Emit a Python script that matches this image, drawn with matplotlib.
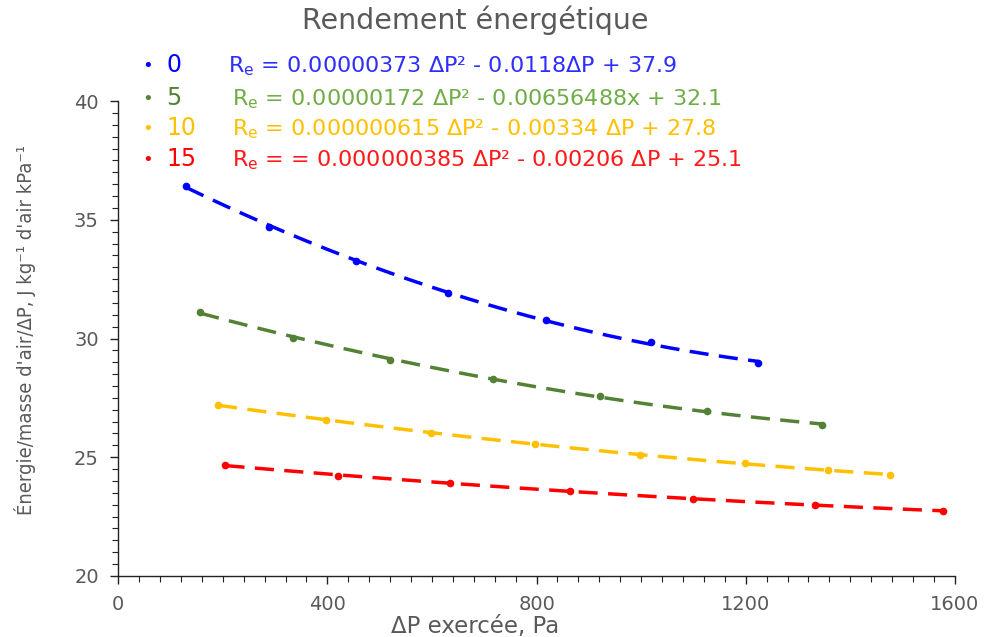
import numpy as np
import matplotlib
matplotlib.use("Agg")
from matplotlib import pyplot as plt
from matplotlib.ticker import MultipleLocator

# data
series_names = ["0", "5", "10", "15"]
dp_0 = [130, 289, 455, 631, 818, 1019, 1224]
re_0 = [36.42, 34.70, 33.26, 31.90, 30.78, 29.85, 28.97]
dp_5 = [157, 335, 520, 717, 922, 1126, 1346]
re_5 = [31.12, 30.02, 29.09, 28.29, 27.58, 26.95, 26.36]
dp_10 = [191, 398, 598, 797, 998, 1199, 1358, 1476]
re_10 = [27.20, 26.57, 26.02, 25.56, 25.09, 24.76, 24.46, 24.25]
dp_15 = [205, 421, 635, 864, 1099, 1333, 1577]
re_15 = [24.67, 24.21, 23.92, 23.58, 23.24, 22.99, 22.74]
equations = [
    "R$_\\mathregular{e}$ = 0.00000373 ΔP² - 0.0118ΔP + 37.9",
    "R$_\\mathregular{e}$ = 0.00000172 ΔP² - 0.00656488x + 32.1",
    "R$_\\mathregular{e}$ = 0.000000615 ΔP² - 0.00334 ΔP + 27.8",
    "R$_\\mathregular{e}$ = = 0.000000385 ΔP² - 0.00206 ΔP + 25.1",
]

colors = ["#0000FF", "#548235", "#FFC000", "#FF0000"]
text_colors = ["#2E2EFF", "#70AD47", "#FFC000", "#FF1A1A"]
gray = "#595959"

plt.rcParams['font.family'] = ['DejaVu Sans']

fig = plt.figure(figsize=(10.02, 6.37), dpi=100)
ax = fig.add_axes([0.118, 0.0958, 0.835, 0.7456])

xs = [dp_0, dp_5, dp_10, dp_15]
ys = [re_0, re_5, re_10, re_15]
for x, y, c in zip(xs, ys, colors):
    ax.plot(x, y, 'o', color=c, markersize=4.5, zorder=3)
    # second order trend line, like the spreadsheet one
    coef = np.polyfit(x, y, 2)
    xx = np.linspace(min(x), max(x), 200)
    ax.plot(xx, np.polyval(coef, xx), color=c, lw=2.5, dashes=(5.5, 3), zorder=2)

ax.set_xlim(0, 1600)
ax.set_ylim(20, 40)
ax.xaxis.set_major_locator(MultipleLocator(400))
ax.xaxis.set_minor_locator(MultipleLocator(40))
ax.yaxis.set_major_locator(MultipleLocator(5))
ax.yaxis.set_minor_locator(MultipleLocator(0.5))
for s in ['top', 'right']:
    ax.spines[s].set_visible(False)
for s in ['left', 'bottom']:
    ax.spines[s].set_color('#222222')
    ax.spines[s].set_linewidth(1.0)
ax.tick_params(which='major', direction='out', length=6, width=1, color='#222222',
               labelcolor=gray, labelsize=14, pad=8)
ax.tick_params(which='minor', direction='out', length=4, width=0.8, color='#222222')

ax.set_ylabel("Énergie/masse d'air/ΔP, J kg⁻¹ d'air kPa⁻¹",
              fontstretch='condensed', fontsize=14.5, color=gray)
ax.yaxis.set_label_coords(-0.098, 0.517)
fig.text(475 / 1002, 1 - 626 / 637, "ΔP exercée, Pa", ha='center', va='center',
         fontsize=16.5, color=gray)

fig.text(475 / 1002, 1 - 20 / 637, "Rendement énergétique", ha='center', va='center',
         fontsize=20.5, color=gray)

rows = [66, 99, 129, 160]
eq_x = [228, 232, 232, 232]
for name, eq, c, tc, r, ex in zip(series_names, equations, colors, text_colors, rows, eq_x):
    yy = 1 - r / 637
    fig.text(148 / 1002, yy, "•", color=c, fontsize=13, ha='center', va='center')
    fig.text(166 / 1002, yy + 0.002, name, color=c, fontsize=17, ha='left', va='center')
    fig.text(ex / 1002, yy, eq, color=tc, fontsize=16, ha='left', va='center')

plt.savefig("out.png", dpi=100)
